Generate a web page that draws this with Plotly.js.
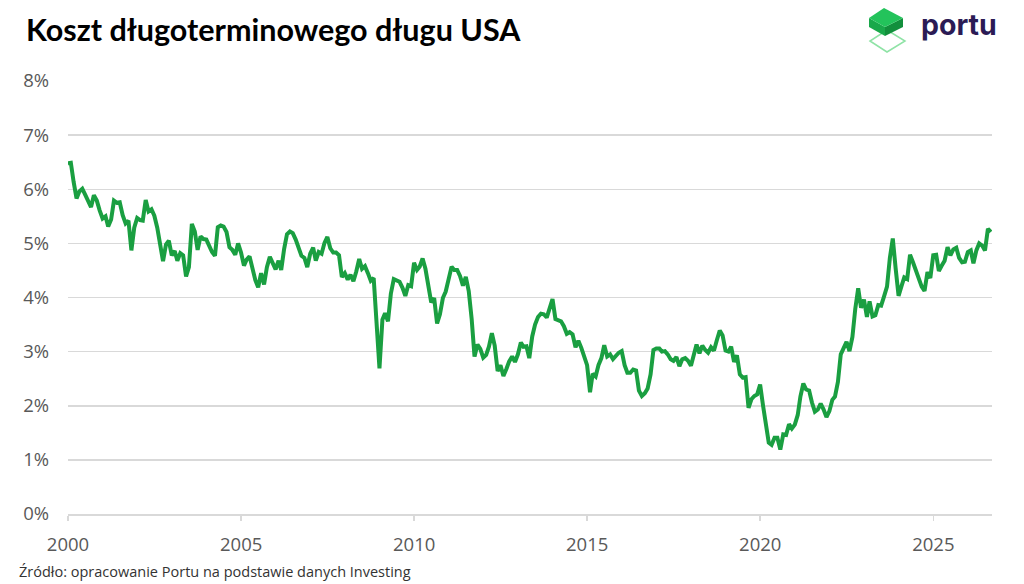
<!DOCTYPE html>
<html>
<head>
<meta charset="utf-8">
<script src="https://cdn.plot.ly/plotly-3.0.1.min.js"></script>
<style>
  body { margin: 0; background: #fff; }
  #wrap { position: relative; width: 1024px; height: 584px; }
  #logo { position: absolute; left: 0; top: 0; pointer-events: none; }
</style>
</head>
<body>
<div id="wrap">
  <div id="chart" style="width:1024px;height:584px"></div>
  <svg id="logo" width="1024" height="60">
    <polygon points="870,41 887,52 905,41 887,30" fill="none" stroke="#8fe3a6" stroke-width="1.5"/>
    <polygon points="869,18 885,27 885,36 869,27" fill="#19a84a"/>
    <polygon points="885,27 903,18 903,27 885,36" fill="#128f3c"/>
    <polygon points="884,8 903,18 885,27 869,18" fill="#23c35b"/>
    <text x="921" y="35" font-family="Inter" font-weight="700" font-size="28.5" fill="#2b1b55">portu</text>
  </svg>
</div>
<script>
// rentownosc 30-letnich obligacji USA, koniec miesiaca (od grudnia 1999)
const startYear = 1999, startMonth = 11; // grudzien 1999 (0 = styczen)
const y1999 = [6.48];
const y2000 = [6.49, 6.14, 5.83, 5.96, 6.01, 5.90, 5.78, 5.67, 5.89, 5.79, 5.61, 5.46];
const y2001 = [5.50, 5.31, 5.44, 5.79, 5.75, 5.76, 5.52, 5.37, 5.42, 4.87, 5.29, 5.47];
const y2002 = [5.43, 5.42, 5.80, 5.59, 5.63, 5.51, 5.29, 4.93, 4.67, 4.98, 5.05, 4.78];
const y2003 = [4.86, 4.68, 4.82, 4.78, 4.39, 4.56, 5.36, 5.22, 4.88, 5.13, 5.08, 5.07];
const y2004 = [4.94, 4.84, 4.77, 5.30, 5.33, 5.31, 5.21, 4.93, 4.88, 4.79, 5.00, 4.83];
const y2005 = [4.59, 4.70, 4.76, 4.52, 4.32, 4.19, 4.45, 4.24, 4.56, 4.75, 4.65, 4.52];
const y2006 = [4.68, 4.51, 4.90, 5.17, 5.22, 5.19, 5.07, 4.89, 4.77, 4.73, 4.56, 4.81];
const y2007 = [4.92, 4.68, 4.84, 4.81, 5.01, 5.12, 4.91, 4.83, 4.83, 4.78, 4.38, 4.45];
const y2008 = [4.33, 4.42, 4.30, 4.48, 4.71, 4.53, 4.58, 4.45, 4.31, 4.36, 3.44, 2.69];
const y2009 = [3.59, 3.71, 3.56, 4.07, 4.34, 4.32, 4.29, 4.18, 4.03, 4.23, 4.21, 4.64];
const y2010 = [4.51, 4.57, 4.72, 4.53, 4.22, 3.91, 3.99, 3.52, 3.69, 3.99, 4.11, 4.34];
const y2011 = [4.57, 4.51, 4.51, 4.40, 4.22, 4.38, 4.12, 3.60, 2.91, 3.13, 3.05, 2.89];
const y2012 = [2.94, 3.09, 3.34, 3.11, 2.64, 2.75, 2.55, 2.68, 2.82, 2.91, 2.81, 2.95];
const y2013 = [3.17, 3.09, 3.10, 2.88, 3.28, 3.50, 3.64, 3.70, 3.69, 3.63, 3.81, 3.97];
const y2014 = [3.60, 3.58, 3.56, 3.47, 3.33, 3.36, 3.32, 3.08, 3.20, 3.07, 2.89, 2.75];
const y2015 = [2.25, 2.59, 2.54, 2.75, 2.88, 3.12, 2.91, 2.95, 2.86, 2.92, 2.98, 3.01];
const y2016 = [2.75, 2.61, 2.61, 2.67, 2.65, 2.28, 2.18, 2.23, 2.32, 2.58, 3.03, 3.06];
const y2017 = [3.06, 3.00, 3.01, 2.95, 2.86, 2.83, 2.90, 2.73, 2.86, 2.88, 2.83, 2.74];
const y2018 = [2.95, 3.13, 2.97, 3.11, 3.03, 2.98, 3.08, 3.02, 3.21, 3.39, 3.30, 3.02];
const y2019 = [3.00, 3.09, 2.81, 2.93, 2.58, 2.52, 2.53, 1.96, 2.12, 2.18, 2.21, 2.39];
const y2020 = [2.00, 1.68, 1.32, 1.28, 1.41, 1.41, 1.19, 1.47, 1.46, 1.66, 1.58, 1.65];
const y2021 = [1.83, 2.17, 2.41, 2.30, 2.28, 2.06, 1.89, 1.93, 2.04, 1.93, 1.79, 1.90];
const y2022 = [2.11, 2.17, 2.44, 2.95, 3.06, 3.18, 3.01, 3.27, 3.79, 4.17, 3.81, 3.96];
const y2023 = [3.64, 3.93, 3.65, 3.67, 3.86, 3.85, 4.02, 4.20, 4.73, 5.09, 4.54, 4.03];
const y2024 = [4.21, 4.37, 4.34, 4.79, 4.65, 4.51, 4.35, 4.20, 4.12, 4.47, 4.36, 4.78];
const y2025 = [4.79, 4.49, 4.59, 4.68, 4.93, 4.78, 4.89, 4.92, 4.73, 4.65, 4.66, 4.84];
const y2026 = [4.87, 4.63, 4.87, 5.00, 4.96, 4.87, 5.27, 5.21];

const tickYears = [2000, 2005, 2010, 2015, 2020, 2025];
const yTicks = [0, 1, 2, 3, 4, 5, 6, 7, 8];

const values = [].concat(y1999, y2000, y2001, y2002, y2003, y2004, y2005, y2006, y2007,
  y2008, y2009, y2010, y2011, y2012, y2013, y2014, y2015, y2016, y2017, y2018, y2019,
  y2020, y2021, y2022, y2023, y2024, y2025, y2026);

// daty: ostatni dzien kazdego miesiaca
const dates = values.map((_, i) => {
  const d = new Date(Date.UTC(startYear, startMonth + i + 1, 0));
  return d.toISOString().slice(0, 10);
});

const trace = {
  x: dates,
  y: values,
  mode: 'lines',
  line: { color: '#1a9f41', width: 4 },
  hoverinfo: 'x+y'
};

const layout = {
  width: 1024,
  height: 584,
  margin: { l: 68, r: 32, t: 81, b: 70 },
  paper_bgcolor: '#fff',
  plot_bgcolor: '#fff',
  showlegend: false,
  title: {
    text: '<b>Koszt długoterminowego długu USA</b>',
    font: { family: 'Lato', size: 30.5, color: '#000' },
    x: 26 / 1024, xanchor: 'left', xref: 'container',
    y: 1 - 30 / 584, yanchor: 'middle', yref: 'container'
  },
  xaxis: {
    type: 'date',
    range: ['2000-01-01', '2026-09-12'],
    tickvals: tickYears.map(y => y + '-01-01'),
    ticktext: tickYears.map(String),
    tickfont: { family: 'Open Sans', size: 18.5, color: '#595959' },
    showgrid: false,
    zeroline: false,
    showline: true,
    linecolor: '#d9d9d9',
    linewidth: 1.5,
    ticks: 'outside',
    ticklen: 5,
    tickcolor: '#d9d9d9',
    tickwidth: 1.5,
    ticklabelstandoff: 8
  },
  yaxis: {
    range: [0, 8],
    tickvals: yTicks,
    ticktext: yTicks.map(v => v + '%'),
    tickfont: { family: 'Open Sans', size: 18.5, color: '#595959' },
    gridcolor: '#d9d9d9',
    gridwidth: 1.5,
    zeroline: false,
    showline: false,
    ticks: '',
    ticklabelstandoff: 18
  },
  annotations: [{
    text: 'Źródło: opracowanie Portu na podstawie danych Investing',
    xref: 'paper', yref: 'paper',
    x: (17 - 68) / 924, y: (514 - 571) / 433,
    xanchor: 'left', yanchor: 'middle',
    showarrow: false,
    font: { family: 'Open Sans', size: 14.5, color: '#333' }
  }]
};

Plotly.newPlot('chart', [trace], layout, { displayModeBar: false, staticPlot: true });
</script>
</body>
</html>
